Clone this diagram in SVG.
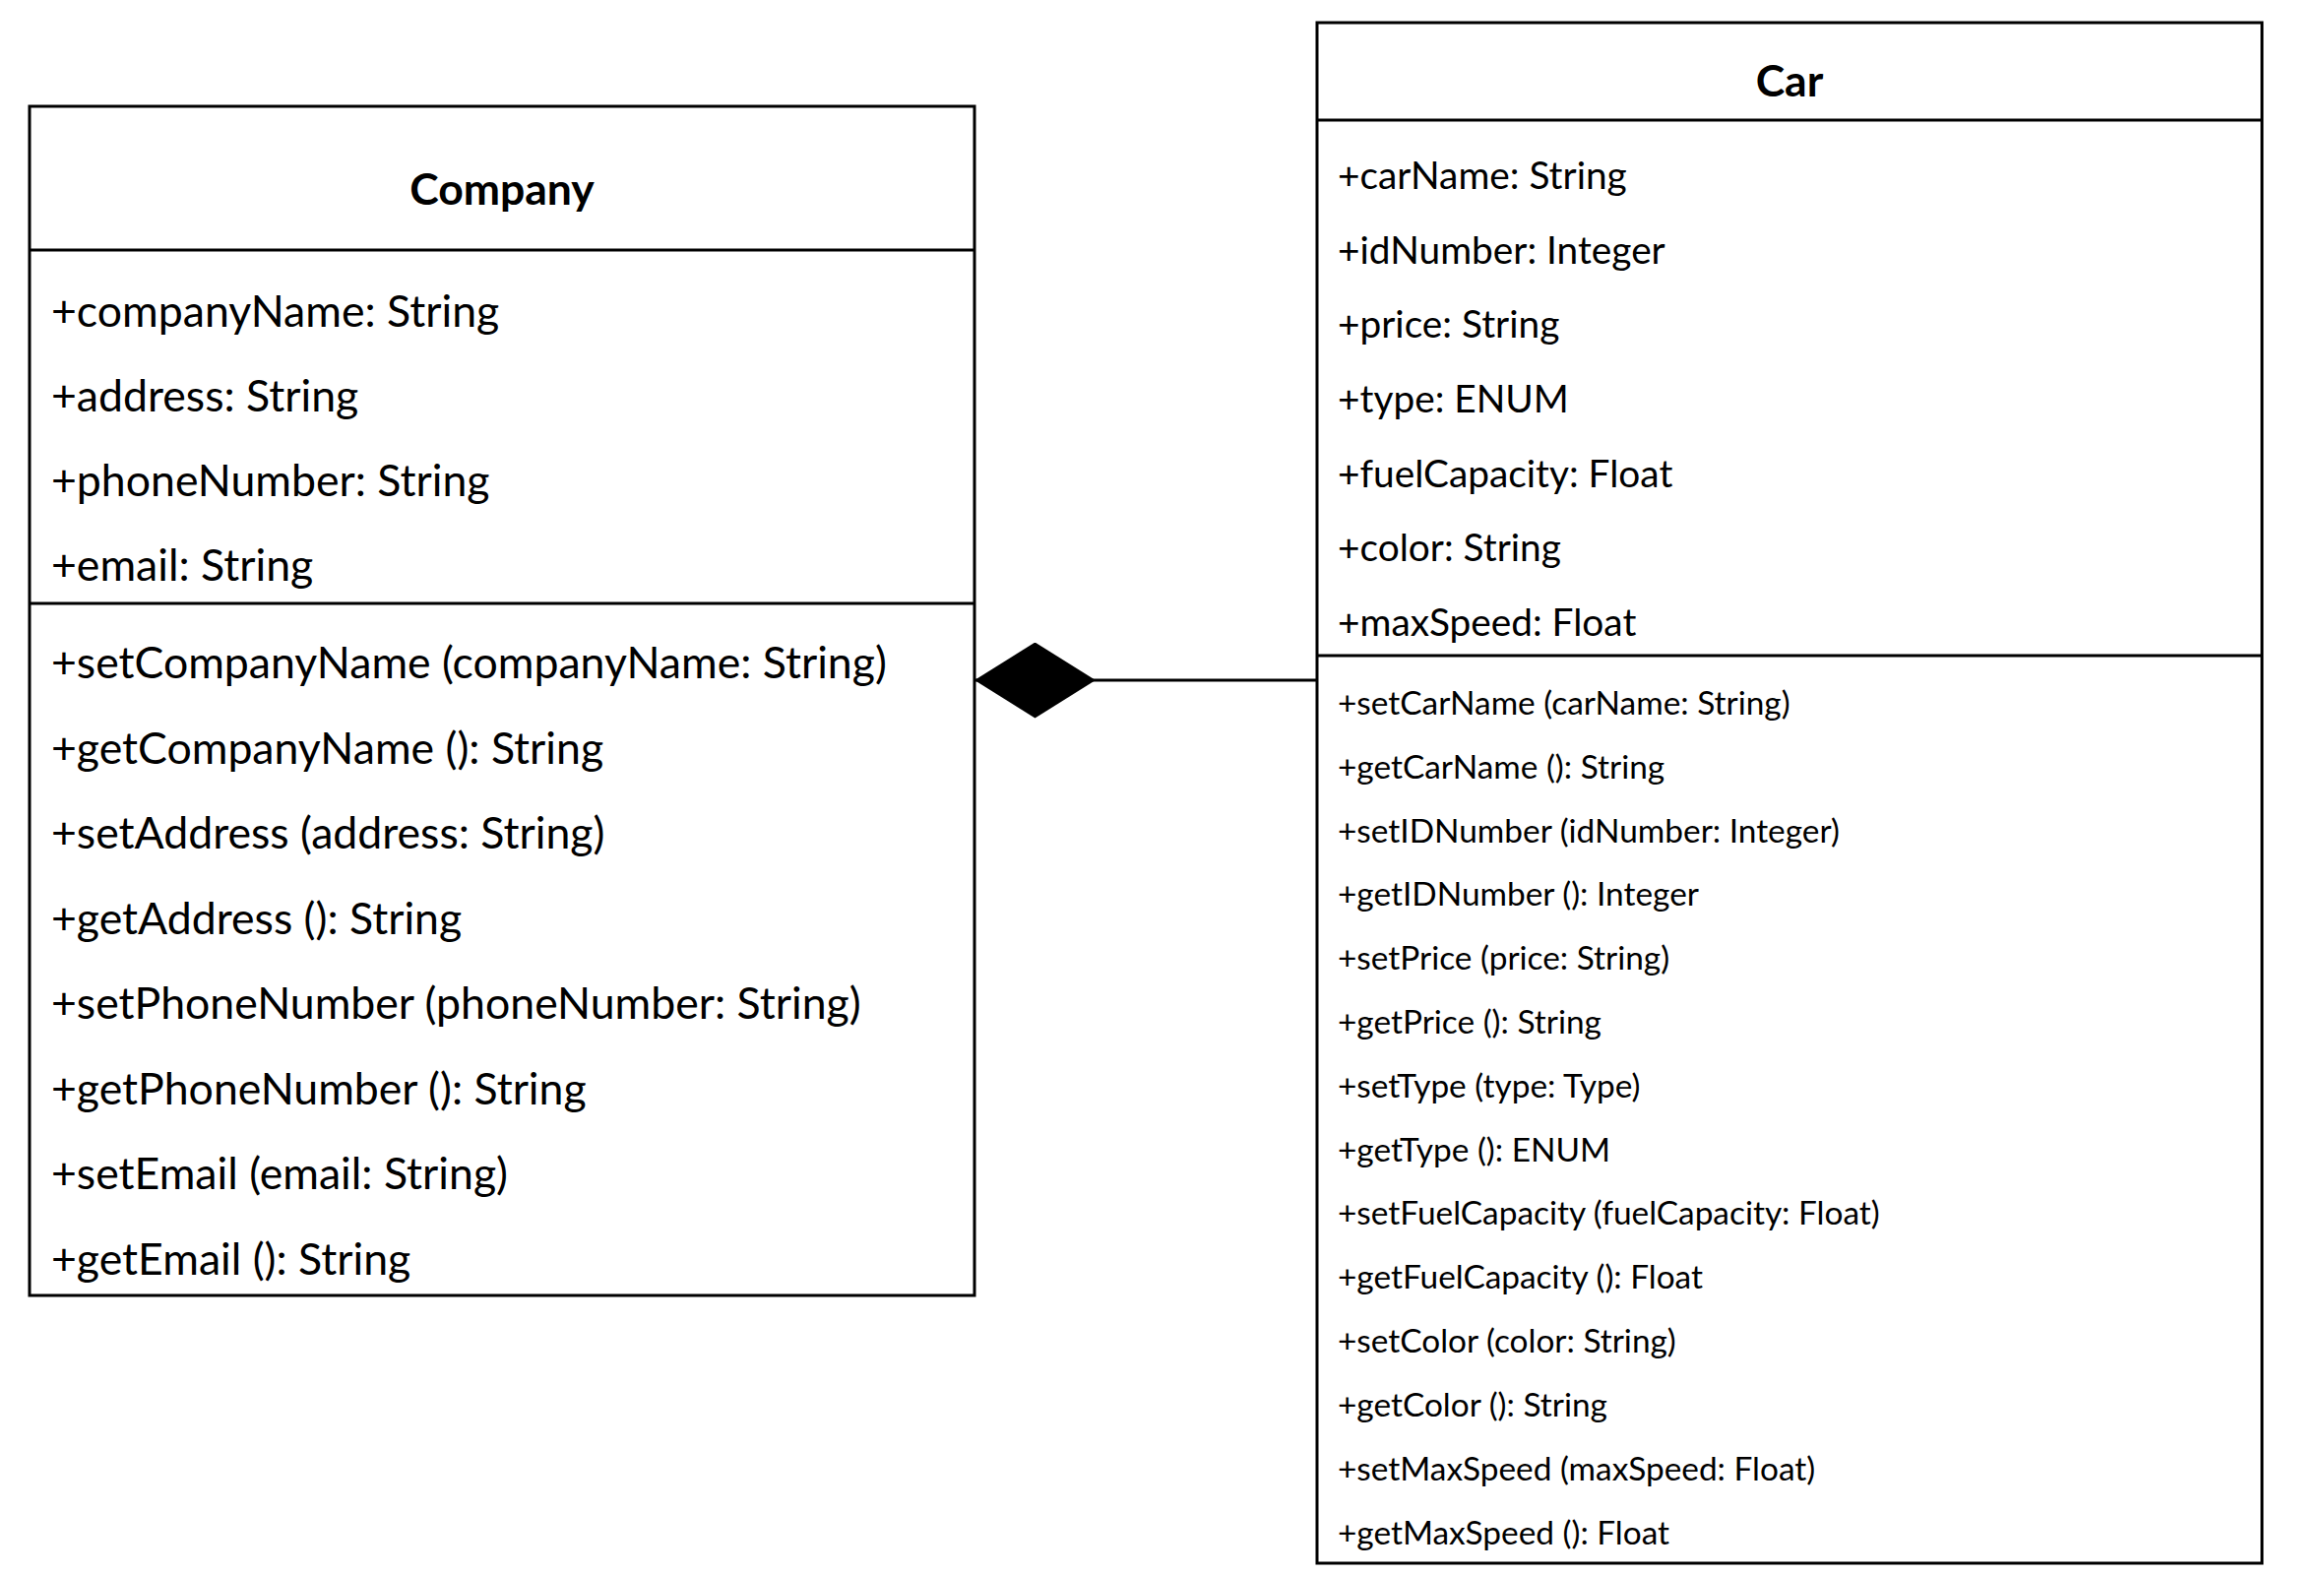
<svg xmlns="http://www.w3.org/2000/svg" width="2361" height="1600" viewBox="0 0 2361 1600">
<style>
.box{fill:#fff;stroke:#000;stroke-width:3}
.div{stroke:#000;stroke-width:3}
.title{font-family:Lato,"Open Sans",sans-serif;font-weight:bold;font-size:44.5px;text-anchor:middle;fill:#000}
.ca{font-family:Lato,"Open Sans",sans-serif;font-size:44.6px;fill:#000}
.cara{font-family:Lato,"Open Sans",sans-serif;font-size:38.8px;fill:#000}
.carm{font-family:Lato,"Open Sans",sans-serif;font-size:33.4px;fill:#000}
.conn{stroke:#000;stroke-width:3;fill:none}
</style>
<defs>
<marker id="diamond" markerUnits="userSpaceOnUse" viewBox="0 0 123 77" refX="0" refY="38.5" markerWidth="123" markerHeight="77" orient="auto">
<path d="M0,38.5 L61.5,0 L123,38.5 L61.5,77 Z" fill="#000"/>
</marker>
</defs>
<rect width="2361" height="1600" fill="#fff"/>
<g id="connectors">
<line class="conn" x1="990" y1="691" x2="1338" y2="691" marker-start="url(#diamond)"/>
</g>
<g id="company">
<rect class="box" x="30" y="108" width="960" height="1208"/>
<line class="div" x1="30" y1="254" x2="990" y2="254"/>
<line class="div" x1="30" y1="613" x2="990" y2="613"/>
<text class="title" x="510" y="208">Company</text>
<text class="ca" x="52" y="332">+companyName: String</text>
<text class="ca" x="52" y="418">+address: String</text>
<text class="ca" x="52" y="504">+phoneNumber: String</text>
<text class="ca" x="52" y="590">+email: String</text>
<text class="ca" x="52" y="689">+setCompanyName (companyName: String)</text>
<text class="ca" x="52" y="776">+getCompanyName (): String</text>
<text class="ca" x="52" y="862">+setAddress (address: String)</text>
<text class="ca" x="52" y="949">+getAddress (): String</text>
<text class="ca" x="52" y="1035">+setPhoneNumber (phoneNumber: String)</text>
<text class="ca" x="52" y="1122">+getPhoneNumber (): String</text>
<text class="ca" x="52" y="1208">+setEmail (email: String)</text>
<text class="ca" x="52" y="1295">+getEmail (): String</text>
</g>
<g id="car">
<rect class="box" x="1338" y="23" width="960" height="1565"/>
<line class="div" x1="1338" y1="122" x2="2298" y2="122"/>
<line class="div" x1="1338" y1="666" x2="2298" y2="666"/>
<text class="title" x="1818" y="98">Car</text>
<text class="cara" x="1359" y="192">+carName: String</text>
<text class="cara" x="1359" y="268">+idNumber: Integer</text>
<text class="cara" x="1359" y="343">+price: String</text>
<text class="cara" x="1359" y="419">+type: ENUM</text>
<text class="cara" x="1359" y="495">+fuelCapacity: Float</text>
<text class="cara" x="1359" y="570">+color: String</text>
<text class="cara" x="1359" y="646">+maxSpeed: Float</text>
<text class="carm" x="1359" y="726">+setCarName (carName: String)</text>
<text class="carm" x="1359" y="791">+getCarName (): String</text>
<text class="carm" x="1359" y="856">+setIDNumber (idNumber: Integer)</text>
<text class="carm" x="1359" y="920">+getIDNumber (): Integer</text>
<text class="carm" x="1359" y="985">+setPrice (price: String)</text>
<text class="carm" x="1359" y="1050">+getPrice (): String</text>
<text class="carm" x="1359" y="1115">+setType (type: Type)</text>
<text class="carm" x="1359" y="1180">+getType (): ENUM</text>
<text class="carm" x="1359" y="1244">+setFuelCapacity (fuelCapacity: Float)</text>
<text class="carm" x="1359" y="1309">+getFuelCapacity (): Float</text>
<text class="carm" x="1359" y="1374">+setColor (color: String)</text>
<text class="carm" x="1359" y="1439">+getColor (): String</text>
<text class="carm" x="1359" y="1504">+setMaxSpeed (maxSpeed: Float)</text>
<text class="carm" x="1359" y="1569">+getMaxSpeed (): Float</text>
</g>
</svg>
